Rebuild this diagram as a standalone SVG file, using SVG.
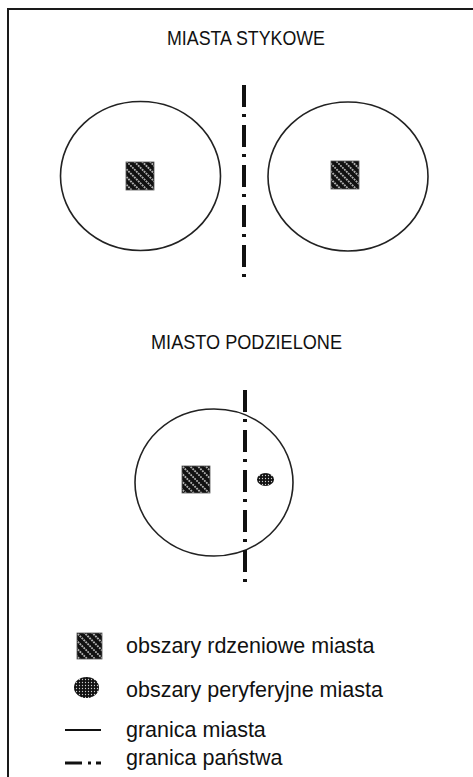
<svg xmlns="http://www.w3.org/2000/svg" width="473" height="777" viewBox="0 0 473 777">
<defs>
<style>
.title{font-family:"Liberation Sans",Arial,sans-serif;font-size:20.5px;fill:#111;}
.leg{font-family:"Liberation Sans",Arial,sans-serif;font-size:21.5px;fill:#111;}
.city{fill:none;stroke:#222;stroke-width:1.6;}
.border{stroke:#111;stroke-width:4;stroke-dasharray:22 7 3 8;fill:none;}
.core{fill:url(#hatch);stroke:#555;stroke-width:0.8;}
.peri{fill:url(#dots);}
</style>
<pattern id="hatch" patternUnits="userSpaceOnUse" width="5.5" height="5.5" patternTransform="rotate(-45)">
<rect width="5.5" height="5.5" fill="#111"/>
<line x1="2.75" y1="0" x2="2.75" y2="5.5" stroke="#eee" stroke-width="1.3" stroke-dasharray="1.8 1"/>
</pattern>
<pattern id="dots" patternUnits="userSpaceOnUse" width="3" height="3">
<rect width="3" height="3" fill="#111"/>
<circle cx="1.5" cy="1.5" r="0.65" fill="#ccc"/>
</pattern>
</defs>
<rect width="473" height="777" fill="#fff"/>
<rect x="8" y="9" width="480" height="790" fill="none" stroke="#1a1a1a" stroke-width="2"/>

<g id="title-stykowe"><text class="title" x="167" y="45" textLength="158" lengthAdjust="spacingAndGlyphs">MIASTA STYKOWE</text></g>
<g id="title-podzielone"><text class="title" x="151" y="349" textLength="191" lengthAdjust="spacingAndGlyphs">MIASTO PODZIELONE</text></g>

<g id="city-left">
<ellipse class="city" cx="140.5" cy="176" rx="80" ry="74.5"/>
<rect class="core" x="126" y="162" width="28" height="28"/>
</g>
<g id="city-right">
<ellipse class="city" cx="348" cy="176.5" rx="80" ry="74.5"/>
<rect class="core" x="331" y="161" width="28" height="28"/>
</g>
<g id="city-divided">
<ellipse class="city" cx="214" cy="482.5" rx="79" ry="73.5"/>
<rect class="core" x="182" y="466" width="28" height="27"/>
<ellipse class="peri" cx="265.5" cy="479.5" rx="8.5" ry="6.5"/>
</g>

<g id="connectors">
<line class="border" x1="244" y1="85" x2="244" y2="278"/>
<line class="border" x1="245" y1="390" x2="245" y2="583"/>
</g>

<g id="legend">
<rect class="core" x="77" y="633" width="25" height="26"/>
<text class="leg" x="126" y="653">obszary rdzeniowe miasta</text>
<ellipse class="peri" cx="86.5" cy="687.5" rx="12.5" ry="10.5"/>
<text class="leg" x="126" y="697">obszary peryferyjne miasta</text>
<line x1="65" y1="730" x2="101" y2="730" stroke="#111" stroke-width="2"/>
<text class="leg" x="126" y="737">granica miasta</text>
<line x1="65" y1="763" x2="82" y2="763" stroke="#111" stroke-width="3"/>
<line x1="88" y1="763" x2="91" y2="763" stroke="#111" stroke-width="3"/>
<line x1="96" y1="763" x2="101" y2="763" stroke="#111" stroke-width="3"/>
<text class="leg" x="126" y="765">granica państwa</text>
</g>
</svg>
